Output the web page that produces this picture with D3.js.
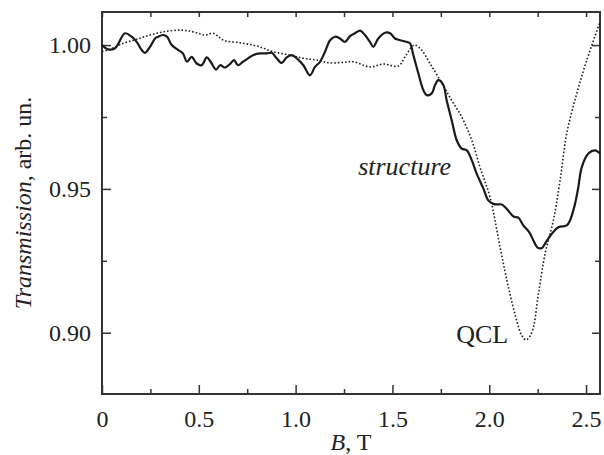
<!DOCTYPE html>
<html>
<head>
<meta charset="utf-8">
<script src="https://cdn.jsdelivr.net/npm/d3@7"></script>
<style>
  body { margin: 0; background: #fff; }
  text { font-family: "Liberation Serif", "Times New Roman", serif; fill: #222; }
</style>
</head>
<body>
<div id="chart"></div>
<script>
// structure curve (solid), B in T, transmission in arb. un.
var structB = [0.000, 0.031, 0.067, 0.119, 0.153, 0.179, 0.205, 0.222, 0.248, 0.274, 0.289, 0.315, 0.336, 0.360,
  0.393, 0.418, 0.439, 0.463, 0.489, 0.515, 0.541, 0.561, 0.589, 0.610, 0.635, 0.661, 0.682, 0.702, 0.728,
  0.754, 0.780, 0.816, 0.851, 0.877, 0.902, 0.928, 0.954, 0.980, 1.006, 1.040, 1.074, 1.100, 1.126, 1.152,
  1.178, 1.204, 1.229, 1.255, 1.281, 1.307, 1.333, 1.358, 1.384, 1.401, 1.427, 1.462, 1.488, 1.513, 1.539,
  1.574, 1.591, 1.608, 1.634, 1.660, 1.677, 1.703, 1.720, 1.737, 1.763, 1.780, 1.806, 1.832, 1.858, 1.884,
  1.910, 1.935, 1.970, 1.995, 2.021, 2.039, 2.065, 2.090, 2.125, 2.150, 2.176, 2.207, 2.228, 2.248, 2.271,
  2.293, 2.323, 2.357, 2.400, 2.417, 2.443, 2.460, 2.478, 2.512, 2.546, 2.572];
var structT = [1.0000, 0.9985, 0.9989, 1.0041, 1.0029, 1.0011, 0.9983, 0.9973, 0.9994, 1.0023, 1.0029, 1.0035, 1.0029, 1.0000,
  0.9983, 0.9971, 0.9942, 0.9959, 0.9936, 0.9930, 0.9957, 0.9942, 0.9915, 0.9930, 0.9922, 0.9934, 0.9948, 0.9930, 0.9942,
  0.9954, 0.9965, 0.9971, 0.9971, 0.9973, 0.9954, 0.9938, 0.9957, 0.9965, 0.9954, 0.9930, 0.9895, 0.9924, 0.9942, 0.9977,
  1.0017, 1.0029, 1.0023, 1.0011, 1.0031, 1.0041, 1.0050, 1.0035, 1.0011, 0.9994, 1.0023, 1.0043, 1.0041, 1.0023, 1.0017,
  1.0011, 1.0006, 0.9965, 0.9901, 0.9843, 0.9826, 0.9832, 0.9861, 0.9878, 0.9861, 0.9808, 0.9739, 0.9669, 0.9640, 0.9634,
  0.9599, 0.9553, 0.9501, 0.9460, 0.9448, 0.9446, 0.9446, 0.9431, 0.9404, 0.9400, 0.9373, 0.9349, 0.9321, 0.9297, 0.9294,
  0.9315, 0.9344, 0.9367, 0.9373, 0.9390, 0.9448, 0.9506, 0.9576, 0.9623, 0.9634, 0.9623];

// QCL curve (dotted)
var qclB = [0.000, 0.041, 0.110, 0.179, 0.248, 0.317, 0.403, 0.472, 0.532, 0.575, 0.627, 0.713, 0.799, 0.885,
  0.971, 1.040, 1.109, 1.178, 1.246, 1.298, 1.384, 1.453, 1.530, 1.565, 1.600, 1.617, 1.651, 1.694, 1.746,
  1.806, 1.858, 1.910, 1.952, 2.004, 2.056, 2.099, 2.142, 2.168, 2.190, 2.220, 2.254, 2.288, 2.331,
  2.366, 2.400, 2.452, 2.504, 2.572];
var qclT = [0.9977, 0.9985, 1.0006, 1.0020, 1.0035, 1.0046, 1.0052, 1.0046, 1.0035, 1.0041, 1.0017, 1.0008, 0.9997, 0.9977,
  0.9965, 0.9954, 0.9948, 0.9938, 0.9940, 0.9942, 0.9924, 0.9934, 0.9927, 0.9959, 0.9994, 1.0000, 0.9983, 0.9936, 0.9878,
  0.9808, 0.9750, 0.9669, 0.9576, 0.9471, 0.9297, 0.9158, 0.9042, 0.8990, 0.8975, 0.9001, 0.9135, 0.9274, 0.9390,
  0.9530, 0.9692, 0.9832, 0.9948, 1.0081];

var xMajor = [0, 0.5, 1.0, 1.5, 2.0, 2.5];
var xMajorLabels = ["0", "0.5", "1.0", "1.5", "2.0", "2.5"];
var xMinor = [0.25, 0.75, 1.25, 1.75, 2.25];
var yMajor = [0.90, 0.95, 1.00];
var yMajorLabels = ["0.90", "0.95", "1.00"];
var yMinor = [0.925, 0.975];

var svgWidth = 604;
var svgHeight = 455;
var margin = { top: 12, right: 4, bottom: 61, left: 102 };
var width = svgWidth - margin.left - margin.right;
var height = svgHeight - margin.top - margin.bottom;

var svg = d3.select("#chart").append("svg")
  .attr("width", svgWidth)
  .attr("height", svgHeight);

var g = svg.append("g")
  .attr("transform", `translate(${margin.left}, ${margin.top})`);

var xScale = d3.scaleLinear().domain([0, 2.572]).range([0, width]);
var yScale = d3.scaleLinear().domain([0.8787, 1.0115]).range([height, 0]);

// ticks, all pointing inward
function ticks(axis, transform) {
  var a = g.append("g").attr("transform", transform).call(axis);
  a.select(".domain").remove();
  a.selectAll("line").attr("stroke", "#333").attr("stroke-width", 1.5);
  a.selectAll("text").attr("font-size", 24).attr("fill", "#222");
  return a;
}

ticks(d3.axisBottom(xScale).tickValues(xMajor).tickSize(-9).tickPadding(16)
  .tickFormat((d, i) => xMajorLabels[i]), `translate(0, ${height})`);
ticks(d3.axisBottom(xScale).tickValues(xMinor).tickSize(-5).tickFormat(""), `translate(0, ${height})`);
ticks(d3.axisTop(xScale).tickValues(xMajor.concat(xMinor)).tickSize(-5).tickFormat(""), "translate(0,0)");

ticks(d3.axisLeft(yScale).tickValues(yMajor).tickSize(-9).tickPadding(11)
  .tickFormat((d, i) => yMajorLabels[i]), "translate(0,0)");
ticks(d3.axisLeft(yScale).tickValues(yMinor).tickSize(-5).tickFormat(""), "translate(0,0)");
ticks(d3.axisRight(yScale).tickValues(yMajor).tickSize(-8).tickFormat(""), `translate(${width},0)`);
ticks(d3.axisRight(yScale).tickValues(yMinor).tickSize(-5).tickFormat(""), `translate(${width},0)`);

// frame
g.append("rect")
  .attr("width", width)
  .attr("height", height)
  .attr("fill", "none")
  .attr("stroke", "#333")
  .attr("stroke-width", 2);

var line = d3.line()
  .x(d => xScale(d[0]))
  .y(d => yScale(d[1]))
  .curve(d3.curveCatmullRom.alpha(0.5));

g.append("path")
  .datum(qclB.map((b, i) => [b, qclT[i]]))
  .attr("d", line)
  .attr("fill", "none")
  .attr("stroke", "#222")
  .attr("stroke-width", 1.6)
  .attr("stroke-dasharray", "1.6,2");

g.append("path")
  .datum(structB.map((b, i) => [b, structT[i]]))
  .attr("d", line)
  .attr("fill", "none")
  .attr("stroke", "#1a1a1a")
  .attr("stroke-width", 2.2)
  .attr("stroke-linejoin", "round");

// curve labels
g.append("text")
  .attr("x", xScale(1.323))
  .attr("y", yScale(0.9547))
  .attr("font-size", 26)
  .attr("font-style", "italic")
  .text("structure");

g.append("text")
  .attr("x", xScale(1.829))
  .attr("y", yScale(0.8965))
  .attr("font-size", 26)
  .text("QCL");

// axis titles
var xt = svg.append("text")
  .attr("x", margin.left + width / 2)
  .attr("y", 450)
  .attr("text-anchor", "middle")
  .attr("font-size", 24);
xt.append("tspan").attr("font-style", "italic").text("B");
xt.append("tspan").text(", T");

var yt = svg.append("text")
  .attr("transform", `translate(31, ${margin.top + height / 2}) rotate(-90)`)
  .attr("text-anchor", "middle")
  .attr("font-size", 24);
yt.append("tspan").attr("font-style", "italic").text("Transmission");
yt.append("tspan").text(", arb. un.");
</script>
</body>
</html>
